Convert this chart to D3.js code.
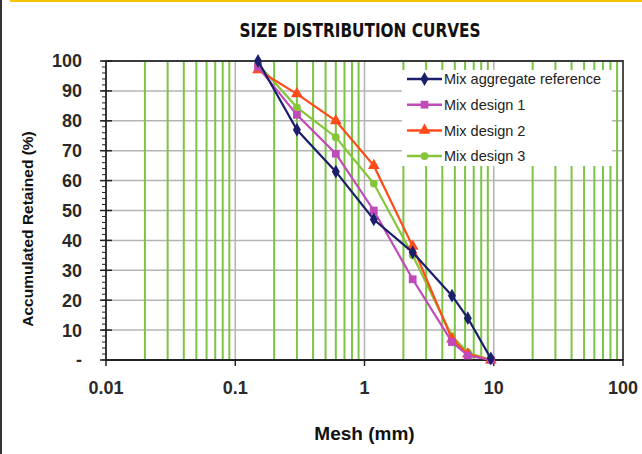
<!DOCTYPE html>
<html>
<head>
<meta charset="utf-8">
<script src="https://cdn.jsdelivr.net/npm/d3@7"></script>
<style>
  body { margin: 0; background: #fff; }
  svg { display: block; }
</style>
</head>
<body>
<svg id="chart" width="642" height="454"></svg>
<script>
// sieve sizes (mm) and accumulated retained (%)
const mesh = [0.15, 0.3, 0.6, 1.18, 2.36, 4.75, 6.3, 9.5];
const mixReference = [100, 77, 63, 47, 36, 21.5, 14, 0.5];
const mixDesign1 = [98, 82, 69, 50, 27, 6, 1.5, 0];
const mixDesign2 = [97, 89, 80, 65, 38, 7, 2, 0];
const mixDesign3 = [99, 84.5, 74.5, 59, 35, 8, 2.5, 0];
const seriesNames = ["Mix aggregate reference", "Mix design 1", "Mix design 2", "Mix design 3"];
const xTickLabels = ["0.01", "0.1", "1", "10", "100"];
const yTickLabels = ["-", "10", "20", "30", "40", "50", "60", "70", "80", "90", "100"];

const svg = d3.select("#chart");
const margin = {left: 106, right: 19, top: 61, bottom: 94};
const width = 642 - margin.left - margin.right;
const height = 454 - margin.top - margin.bottom;

// page frame: dark left edge, yellow top rule
svg.append("rect").attr("x", 0).attr("y", 0).attr("width", 2).attr("height", 454).attr("fill", "#333");
svg.append("rect").attr("x", 10).attr("y", 0).attr("width", 632).attr("height", 2).attr("fill", "#f5c400");

svg.append("text")
    .attr("x", 360).attr("y", 37)
    .attr("text-anchor", "middle")
    .attr("textLength", 241).attr("lengthAdjust", "spacingAndGlyphs")
    .style("font-family", "'DejaVu Sans Condensed', 'DejaVu Sans'")
    .style("font-weight", "bold").style("font-size", "19px")
    .attr("fill", "#111")
    .text("SIZE DISTRIBUTION CURVES");

const g = svg.append("g").attr("transform", `translate(${margin.left},${margin.top})`);

const x = d3.scaleLog().domain([0.01, 100]).range([0, width]);
const y = d3.scaleLinear().domain([0, 100]).range([height, 0]);

// horizontal grid
g.append("g").selectAll("line")
    .data(d3.range(10, 100, 10))
    .enter().append("line")
    .attr("x1", 0).attr("x2", width)
    .attr("y1", d => y(d)).attr("y2", d => y(d))
    .attr("stroke", "#b4b4b4").attr("stroke-width", 1.5);

// minor vertical grid (green) and decades (gray)
const minors = [];
[0.01, 0.1, 1, 10].forEach(dec => { for (let k = 2; k <= 9; k++) minors.push(dec * k); });
g.append("g").selectAll("line")
    .data(minors)
    .enter().append("line")
    .attr("x1", d => x(d)).attr("x2", d => x(d))
    .attr("y1", 0).attr("y2", height)
    .attr("stroke", "#7cc544").attr("stroke-width", 2);
g.append("g").selectAll("line")
    .data([0.1, 1, 10])
    .enter().append("line")
    .attr("x1", d => x(d)).attr("x2", d => x(d))
    .attr("y1", 0).attr("y2", height)
    .attr("stroke", "#b4b4b4").attr("stroke-width", 1.5);

// frame top + right
g.append("path")
    .attr("d", `M0,0H${width}V${height}`)
    .attr("fill", "none").attr("stroke", "#3a3a3a").attr("stroke-width", 1.8);

// Y axis
const yAxis = g.append("g");
yAxis.append("line").attr("x1", 0).attr("x2", 0).attr("y1", 0).attr("y2", height)
    .attr("stroke", "#222").attr("stroke-width", 1.8);
yAxis.selectAll(".minor")
    .data(d3.range(0, 101, 2))
    .enter().append("line")
    .attr("x1", -4).attr("x2", 0)
    .attr("y1", d => y(d)).attr("y2", d => y(d))
    .attr("stroke", "#222").attr("stroke-width", 1);
yAxis.selectAll(".major")
    .data(d3.range(0, 101, 10))
    .enter().append("line")
    .attr("x1", -6).attr("x2", 6)
    .attr("y1", d => y(d)).attr("y2", d => y(d))
    .attr("stroke", "#222").attr("stroke-width", 1.5);
yAxis.selectAll("text")
    .data(yTickLabels)
    .enter().append("text")
    .attr("x", -24).attr("y", (d, i) => y(i * 10))
    .attr("dy", "0.36em")
    .attr("text-anchor", "end")
    .style("font-family", "'Liberation Sans', Arial, sans-serif")
    .style("font-size", "18px").style("font-weight", "bold")
    .attr("fill", "#2a2a2a")
    .text(d => d);

// X axis
const xAxis = g.append("g").attr("transform", `translate(0,${height})`);
xAxis.append("line").attr("x1", 0).attr("x2", width)
    .attr("stroke", "#222").attr("stroke-width", 1.8);
xAxis.selectAll("line.tick")
    .data([0.01, 0.1, 1, 10, 100])
    .enter().append("line")
    .attr("class", "tick")
    .attr("x1", d => x(d)).attr("x2", d => x(d))
    .attr("y1", -1).attr("y2", 6)
    .attr("stroke", "#222").attr("stroke-width", 1.5);
xAxis.selectAll("text")
    .data(xTickLabels)
    .enter().append("text")
    .attr("x", d => x(+d)).attr("y", 34)
    .attr("text-anchor", "middle")
    .style("font-family", "'Liberation Sans', Arial, sans-serif")
    .style("font-size", "18px").style("font-weight", "bold")
    .attr("fill", "#2a2a2a")
    .text(d => d);

// axis titles
svg.append("text")
    .attr("x", margin.left + width / 2).attr("y", 440)
    .attr("text-anchor", "middle")
    .style("font-family", "'Liberation Sans', Arial, sans-serif")
    .style("font-weight", "bold").style("font-size", "19px")
    .attr("fill", "#111")
    .text("Mesh (mm)");
svg.append("text")
    .attr("transform", "translate(33,229) rotate(-90)")
    .attr("text-anchor", "middle")
    .style("font-family", "'Liberation Sans', Arial, sans-serif")
    .style("font-weight", "bold").style("font-size", "15.5px")
    .attr("fill", "#111")
    .text("Accumulated Retained (%)");

// series
const series = [
    {name: seriesNames[0], values: mixReference, color: "#1b1f6b", symbol: d3.symbolDiamond, size: 55},
    {name: seriesNames[1], values: mixDesign1, color: "#c04ab8", symbol: d3.symbolSquare, size: 60},
    {name: seriesNames[2], values: mixDesign2, color: "#ff4a1a", symbol: d3.symbolTriangle, size: 60},
    {name: seriesNames[3], values: mixDesign3, color: "#86c53a", symbol: d3.symbolCircle, size: 48}
];

const line = d3.line().x(d => x(d[0])).y(d => y(d[1]));

// draw in reverse so the reference sits on top
series.slice().reverse().forEach(s => {
    const pts = mesh.map((m, i) => [m, s.values[i]]);
    g.append("path")
        .datum(pts)
        .attr("d", line)
        .attr("fill", "none")
        .attr("stroke", s.color).attr("stroke-width", 2.2);
    g.selectAll(null)
        .data(pts)
        .enter().append("path")
        .attr("transform", d => `translate(${x(d[0])},${y(d[1])})`)
        .attr("d", d3.symbol().type(s.symbol).size(s.size))
        .attr("fill", s.color);
});

// legend
const legend = svg.append("g").attr("transform", "translate(402,70)");
legend.append("rect").attr("width", 210).attr("height", 96).attr("fill", "#fff");
series.forEach((s, i) => {
    const ly = 9 + i * 25.7;
    legend.append("line").attr("x1", 5).attr("x2", 40).attr("y1", ly).attr("y2", ly)
        .attr("stroke", s.color).attr("stroke-width", 2.5);
    legend.append("path")
        .attr("transform", `translate(22.5,${ly})`)
        .attr("d", d3.symbol().type(s.symbol).size(s.size))
        .attr("fill", s.color);
    legend.append("text")
        .attr("x", 42).attr("y", ly).attr("dy", "0.36em")
        .style("font-family", "'Liberation Sans', Arial, sans-serif")
        .style("font-size", "14.5px")
        .attr("fill", "#222")
        .text(s.name);
});
</script>
</body>
</html>
